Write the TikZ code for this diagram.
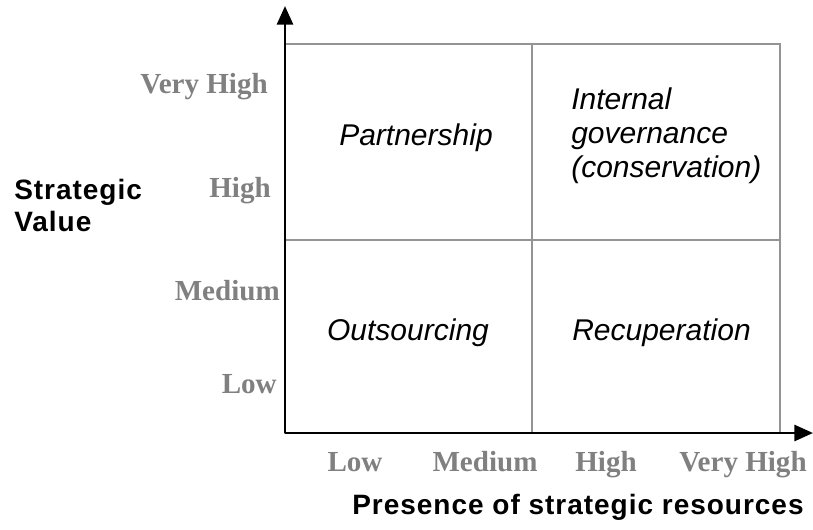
\documentclass[tikz,border=0pt]{standalone}
\usepackage{fontspec}
\setmainfont{Liberation Serif}
\setsansfont{Liberation Sans}
\newfontfamily\widesans[LetterSpace=3.5]{Liberation Sans}
\usepackage{tikz}
\usetikzlibrary{arrows.meta}

\begin{document}
\begin{tikzpicture}[
  x=0.75pt, y=-0.75pt,
  cell/.style={font=\sffamily\itshape\fontsize{22.5}{25.5}\selectfont, inner sep=0pt},
  level/.style={font=\rmfamily\bfseries\fontsize{21.8}{24}\selectfont, text=black!50, inner sep=0pt},
  axlabel/.style={font=\widesans\bfseries\fontsize{21}{24}\selectfont, inner sep=0pt},
  gridline/.style={draw=black!42, line width=1.5pt},
  axisline/.style={line width=2.2pt, -{Triangle[length=14pt,width=12pt]}},
]
\useasboundingbox (0,0) rectangle (813,529);
\def\xL{285}   % value axis
\def\xM{531.5}
\def\xR{780}
\def\yT{44}
\def\yM{240}
\def\yB{433}   % resource axis
% 2x2 grid
\draw[gridline] (\xL,\yT) rectangle (\xR,\yB);
\draw[gridline] (\xM,\yT) -- (\xM,\yB);
\draw[gridline] (\xL,\yM) -- (\xR,\yM);
% axes
\coordinate (origin) at (\xL,\yB);
\coordinate (ytip) at (\xL,6);
\coordinate (xtip) at (813,\yB);
\draw[axisline] (origin) -- (ytip);
\draw[axisline] (origin) -- (xtip);
% quadrant names
\node[cell] (partner) at (416,138) {Partnership};
\node[cell, anchor=west, align=left] (internal) at (571,136)
  {Internal\\governance\\(conservation)};
\node[cell] (outsrc) at (408,333) {Outsourcing};
\node[cell, anchor=west] (recup) at (572,333) {Recuperation};
% levels on both axes
\foreach \y/\xe/\t in {93/268/Very High,197/271/High,300/280/Medium,393/277/Low}{
  \node[level, anchor=base east] (yl\y) at (\xe,\y) {\t};
}
\foreach \x/\t in {355/Low,485/Medium,606/High,743/Very High}{
  \node[level, anchor=base] (xl\x) at (\x,471) {\t};
}
% axis names
\node[axlabel, anchor=west, align=left] (yname) at (14,205) {Strategic\\Value};
\node[axlabel, anchor=base] (xname) at (578,514) {Presence of strategic resources};
\end{tikzpicture}
\end{document}
